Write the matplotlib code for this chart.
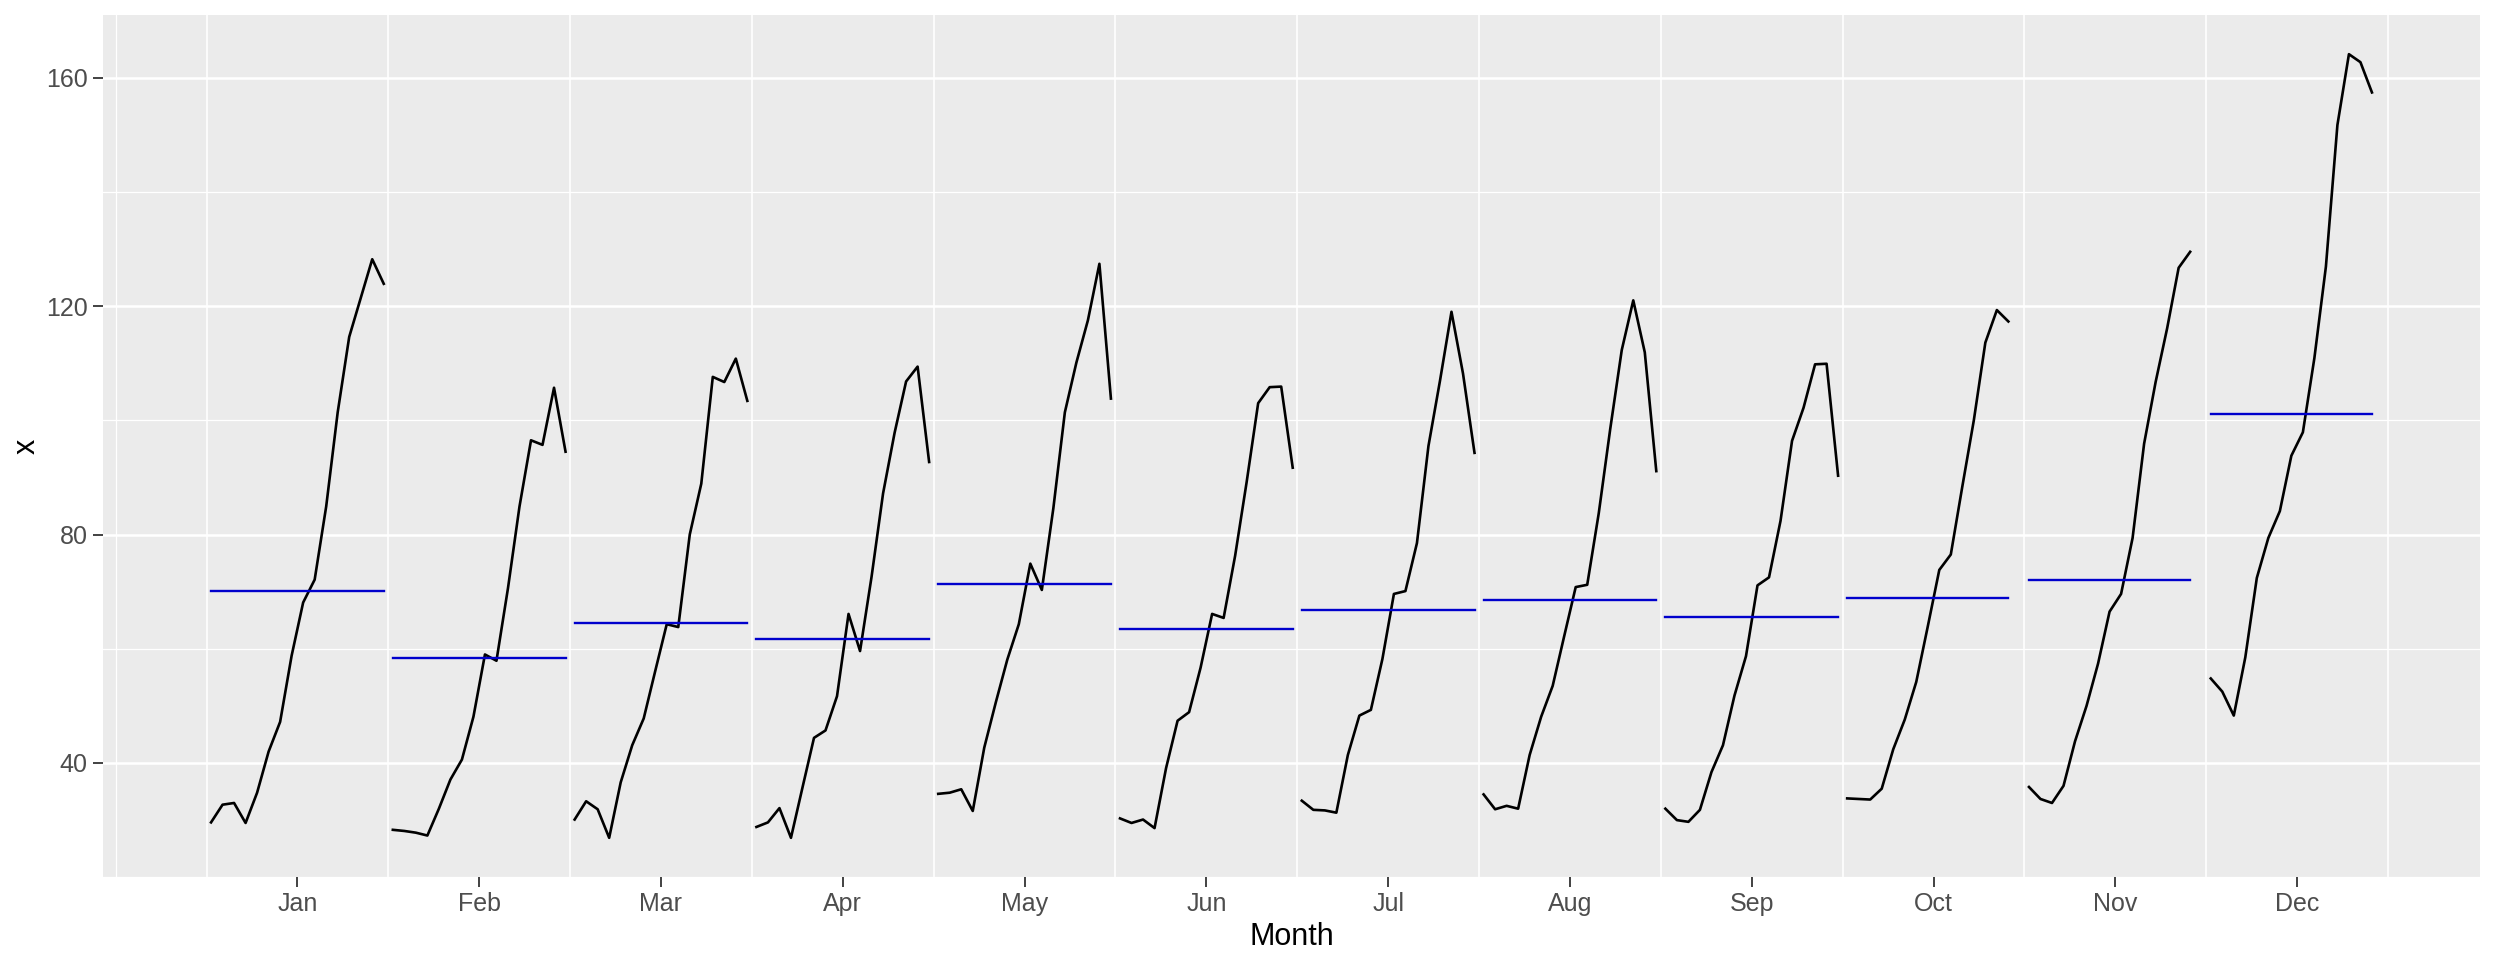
import numpy as np
import matplotlib
matplotlib.use("Agg")
import matplotlib.pyplot as plt

################################
#         Data (read off)      #
################################
months = ['Jan', 'Feb', 'Mar', 'Apr', 'May', 'Jun',
          'Jul', 'Aug', 'Sep', 'Oct', 'Nov', 'Dec']

jan = [29.6, 32.7, 33.0, 29.5, 34.8, 42.0, 47.2, 58.8, 68.1, 72.1, 84.9, 101.4, 114.6, 121.4, 128.2, 123.9]
feb = [28.3, 28.1, 27.8, 27.3, 32.0, 37.1, 40.6, 48.1, 59.0, 57.9, 70.6, 84.9, 96.5, 95.7, 105.7, 94.5]
mar = [30.1, 33.3, 31.9, 26.9, 36.6, 43.1, 47.8, 56.1, 64.3, 63.8, 80.0, 88.9, 107.6, 106.7, 110.8, 103.4]
apr = [28.8, 29.6, 32.1, 26.9, 35.7, 44.4, 45.7, 51.7, 66.1, 59.6, 72.6, 87.2, 97.8, 106.8, 109.4, 92.7]
may = [34.6, 34.8, 35.4, 31.6, 42.7, 50.6, 58.1, 64.3, 74.9, 70.3, 84.6, 101.4, 110.1, 117.5, 127.4, 103.8]
jun = [30.3, 29.5, 30.1, 28.6, 39.1, 47.4, 48.9, 56.7, 66.1, 65.4, 76.3, 89.2, 103.0, 105.8, 105.9, 91.7]
jul = [33.4, 31.8, 31.7, 31.3, 41.4, 48.3, 49.3, 58.2, 69.6, 70.1, 78.5, 95.5, 106.9, 119.0, 108.2, 94.3]
aug = [34.5, 31.9, 32.5, 32.0, 41.4, 48.1, 53.5, 62.2, 70.8, 71.2, 83.7, 98.5, 112.3, 121.0, 111.9, 91.1]
sep = [32.0, 30.0, 29.7, 31.8, 38.4, 43.1, 51.8, 58.7, 71.1, 72.5, 82.4, 96.4, 102.2, 109.8, 109.9, 90.3]
octo = [33.8, 33.7, 33.6, 35.5, 42.4, 47.6, 54.2, 63.9, 73.8, 76.5, 88.4, 100.0, 113.6, 119.3, 117.3]
nov = [35.8, 33.7, 33.0, 36.0, 43.8, 50.0, 57.4, 66.5, 69.6, 79.4, 95.9, 106.7, 116.1, 126.7, 129.5]
dec = [54.8, 52.5, 48.3, 58.5, 72.4, 79.4, 84.1, 93.8, 97.9, 110.9, 126.9, 151.7, 164.1, 162.7, 157.4]

series = [jan, feb, mar, apr, may, jun, jul, aug, sep, octo, nov, dec]
n_years = 16

################################
#            Plot              #
################################
fig = plt.figure(figsize=(24.96, 9.6), dpi=100)
ax = fig.add_axes([103 / 2496, 1 - 877 / 960, (2480 - 103) / 2496, (877 - 15) / 960])
ax.set_facecolor('#EBEBEB')

# grid lines (ggplot grey look)
for v in [40, 80, 120, 160]:
    ax.axhline(v, color='white', lw=1.8, zorder=0)
for v in [20, 60, 100, 140]:
    ax.axhline(v, color='white', lw=0.9, zorder=0)
ax.axvline(-0.5, color='white', lw=0.9, zorder=0)
for v in range(13):
    ax.axvline(v, color='white', lw=1.2, zorder=0)

all_x = []
all_y = []
for m, vals in enumerate(series):
    j = np.arange(len(vals))
    x = m + 0.025 + j * 0.95 / (n_years - 1)
    ax.plot(x, vals, color='black', lw=1.9, zorder=3)
    ax.plot([x[0], x[-1]], [np.mean(vals)] * 2, color='#0000CC', lw=1.7, zorder=4)
    all_x.extend(x)
    all_y.extend(vals)

# 5% expansion like ggplot
xr = max(all_x) - min(all_x)
yr = max(all_y) - min(all_y)
ax.set_xlim(min(all_x) - 0.05 * xr, max(all_x) + 0.05 * xr)
ax.set_ylim(min(all_y) - 0.05 * yr, max(all_y) + 0.05 * yr)

ax.set_xticks(np.arange(12) + 0.5)
ax.set_xticklabels(months)
ax.set_yticks([40, 80, 120, 160])

for s in ax.spines.values():
    s.set_visible(False)

ax.tick_params(axis='both', colors='#333333', length=7, width=1.3,
               labelsize=18, labelcolor='#4D4D4D', pad=4)
for lab in ax.get_xticklabels() + ax.get_yticklabels():
    lab.set_family('Liberation Sans')

ax.set_xlabel('Month', fontsize=22, family='Liberation Sans', labelpad=4)
ax.set_ylabel('x', fontsize=22, family='Liberation Sans', labelpad=3)

plt.savefig('out.png', dpi=100)
